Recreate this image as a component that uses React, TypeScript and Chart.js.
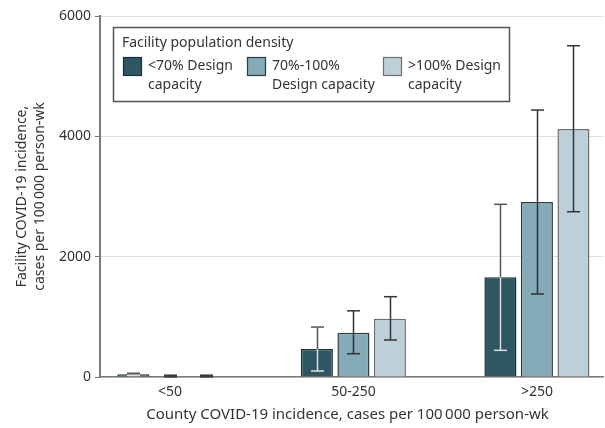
import React, { useEffect, useRef } from "react";
import { Chart, registerables } from "chart.js";

Chart.register(...registerables);

const categories = ["<50", "50-250", ">250"];
const legendTitle = "Facility population density";
const seriesNames = [
  ["<70% Design", "capacity"],
  ["70%-100%", "Design capacity"],
  [">100% Design", "capacity"],
];
const lowDensity = [45, 465, 1657];
const lowDensityLo = [25, 100, 443];
const lowDensityHi = [62, 830, 2870];
const midDensity = [10, 735, 2908];
const midDensityLo = [2, 387, 1380];
const midDensityHi = [30, 1100, 4437];
const highDensity = [12, 968, 4121];
const highDensityLo = [3, 615, 2747];
const highDensityHi = [30, 1335, 5506];
const yTicks = [0, 2000, 4000, 6000];
const xTitle = "County COVID-19 incidence, cases per 100\u2009000 person-wk";
const yTitle = ["Facility COVID-19 incidence,", "cases per 100\u2009000 person-wk"];

const FONT = '"Noto Sans", "DejaVu Sans", sans-serif';
const TEXT = "#333333";

const errorBarPlugin = {
  id: "errorBars",
  afterDatasetsDraw(chart: any) {
    const ctx = chart.ctx;
    const y = chart.scales.y;
    chart.data.datasets.forEach((ds: any, di: number) => {
      const meta = chart.getDatasetMeta(di);
      meta.data.forEach((bar: any, i: number) => {
        const x = Math.round(bar.x) + 0.5;
        const pLo = y.getPixelForValue(ds.errLo[i]);
        const pHi = y.getPixelForValue(ds.errHi[i]);
        const pTop = y.getPixelForValue(ds.data[i].y);
        const cap = 6.5;
        ctx.save();
        ctx.lineWidth = 1.5;
        const insideTop = Math.max(pHi, pTop);
        if (pLo > insideTop) {
          ctx.strokeStyle = ds.errInner;
          ctx.beginPath();
          ctx.moveTo(x, pLo);
          ctx.lineTo(x, insideTop);
          ctx.stroke();
        }
        if (pHi < pTop) {
          ctx.strokeStyle = ds.errColor;
          ctx.beginPath();
          ctx.moveTo(x, Math.min(pTop, pLo));
          ctx.lineTo(x, pHi);
          ctx.stroke();
        }
        ctx.strokeStyle = pLo >= pTop ? ds.errInner : ds.errColor;
        ctx.beginPath();
        ctx.moveTo(x - cap, pLo);
        ctx.lineTo(x + cap, pLo);
        ctx.stroke();
        ctx.strokeStyle = pHi >= pTop ? ds.errInner : ds.errColor;
        ctx.beginPath();
        ctx.moveTo(x - cap, pHi);
        ctx.lineTo(x + cap, pHi);
        ctx.stroke();
        ctx.restore();
      });
    });
  },
};

const overlayPlugin = {
  id: "overlay",
  afterDraw(chart: any) {
    const ctx = chart.ctx;
    const area = chart.chartArea;
    ctx.save();
    ctx.fillStyle = "#ffffff";
    ctx.fillRect(113, 27, 396, 74);
    ctx.strokeStyle = "#555555";
    ctx.lineWidth = 1.5;
    ctx.strokeRect(113.5, 27.5, 396, 74);
    ctx.fillStyle = TEXT;
    ctx.font = `14px ${FONT}`;
    ctx.textBaseline = "middle";
    ctx.textAlign = "left";
    ctx.fillText(legendTitle, 122, 43);
    const sx = [123, 247, 383];
    chart.data.datasets.forEach((ds: any, di: number) => {
      ctx.fillStyle = ds.backgroundColor;
      ctx.fillRect(sx[di], 57, 19, 19);
      ctx.strokeStyle = ds.borderColor;
      ctx.lineWidth = 1.2;
      ctx.strokeRect(sx[di] + 0.5, 57.5, 18, 18);
      ctx.fillStyle = TEXT;
      ctx.fillText(seriesNames[di][0], sx[di] + 25, 66);
      ctx.fillText(seriesNames[di][1], sx[di] + 25, 85);
    });
    ctx.textAlign = "center";
    ctx.font = `15px ${FONT}`;
    ctx.fillText(xTitle, (area.left + area.right) / 2 - 4, 415);
    ctx.font = `14px ${FONT}`;
    const cy = (area.top + area.bottom) / 2;
    [22, 40].forEach((lx, li) => {
      ctx.save();
      ctx.translate(lx, cy);
      ctx.rotate(-Math.PI / 2);
      ctx.fillText(yTitle[li], 0, 0);
      ctx.restore();
    });
    ctx.restore();
  },
};

export default function App() {
  const ref = useRef<HTMLCanvasElement | null>(null);
  useEffect(() => {
    document.body.style.margin = "0";
    const canvas = ref.current;
    if (!canvas) return;
    const mk = (vals: number[]) => vals.map((v, i) => ({ x: i, y: v }));
    const chart = new Chart(canvas, {
      type: "bar",
      data: {
        datasets: [
          {
            label: seriesNames[0].join(" "),
            data: mk(lowDensity),
            backgroundColor: "#2e5663",
            borderColor: "#1e2f35",
            borderWidth: 1.5,
            errLo: lowDensityLo,
            errHi: lowDensityHi,
            errColor: "#555555",
            errInner: "#dedede",
          } as any,
          {
            label: seriesNames[1].join(" "),
            data: mk(midDensity),
            backgroundColor: "#85aab8",
            borderColor: "#2e3a40",
            borderWidth: 1.5,
            errLo: midDensityLo,
            errHi: midDensityHi,
            errColor: "#333333",
            errInner: "#333333",
          } as any,
          {
            label: seriesNames[2].join(" "),
            data: mk(highDensity),
            backgroundColor: "#bdd0da",
            borderColor: "#6e6e6e",
            borderWidth: 1.5,
            errLo: highDensityLo,
            errHi: highDensityHi,
            errColor: "#333333",
            errInner: "#333333",
          } as any,
        ],
      },
      options: {
        animation: false,
        responsive: false,
        devicePixelRatio: 1,
        layout: { padding: { top: 16, right: 2, left: 0, bottom: 0 } },
        datasets: { bar: { categoryPercentage: 0.597, barPercentage: 0.877 } },
        plugins: {
          legend: { display: false },
          tooltip: { enabled: false },
        },
        scales: {
          x: {
            type: "linear",
            min: -0.381,
            max: 2.36,
            offset: false,
            grid: { display: false, drawTicks: false },
            border: { display: true, color: "#7a7a7a", width: 1.5 },
            ticks: {
              font: { family: FONT, size: 14 },
              color: TEXT,
              padding: 7,
              callback: (v: any) => categories[v] ?? "",
            },
            afterBuildTicks: (s: any) => {
              s.ticks = categories.map((_, i) => ({ value: i }));
            },
            afterFit: (s: any) => {
              s.height = 51;
            },
          },
          y: {
            min: 0,
            max: 6000,
            afterBuildTicks: (s: any) => {
              s.ticks = yTicks.map((v) => ({ value: v }));
            },
            grid: { color: "#dedede", lineWidth: 1, tickColor: "#777777", tickLength: 5, drawTicks: true },
            border: { color: "#7a7a7a", width: 2 },
            ticks: {
              font: { family: FONT, size: 14 },
              color: TEXT,
              padding: 4,
              callback: (v: any) => String(v),
            },
            afterFit: (s: any) => {
              s.width = 100;
            },
          },
        },
      } as any,
      plugins: [errorBarPlugin, overlayPlugin],
    });
    return () => chart.destroy();
  }, []);
  return <canvas ref={ref} width={605} height={428} style={{ display: "block" }} />;
}
